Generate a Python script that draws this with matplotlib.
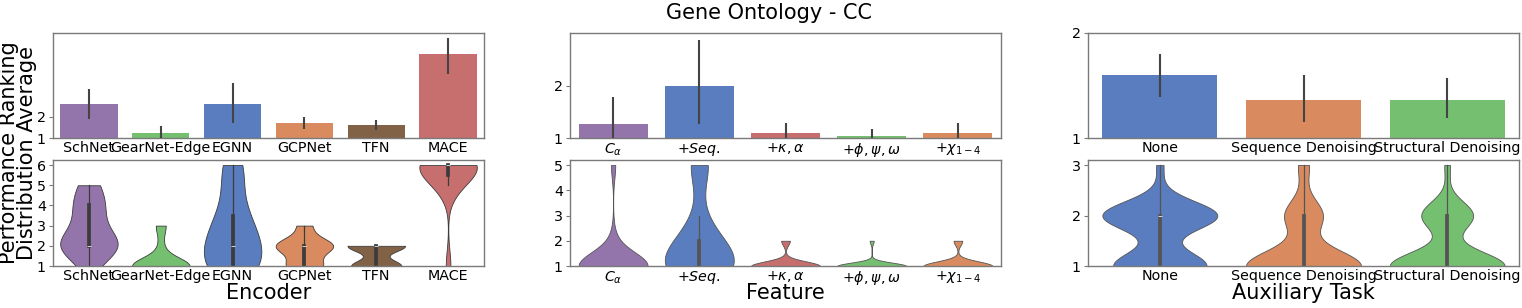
import numpy as np
import pandas as pd
import matplotlib
matplotlib.use("Agg")
import matplotlib.pyplot as plt
import seaborn as sns

# ── data ──────────────────────────────────────────────────────────────────────

ENCODERS = ["SchNet", "GearNet-Edge", "EGNN", "GCPNet", "TFN", "MACE"]
FEATURES = [r"$C_\alpha$", r"$+Seq.$", r"$+\kappa,\alpha$",
            r"$+\phi,\psi,\omega$", r"$+\chi_{1-4}$"]
AUX_TASKS = ["None", "Sequence Denoising", "Structural Denoising"]

# average ranking (bar height) and its interval
enc_mean = [2.62, 1.24, 2.62, 1.70, 1.63, 4.98]
enc_lo = [1.90, 1.00, 1.70, 1.43, 1.36, 4.03]
enc_hi = [3.35, 1.59, 3.63, 2.00, 1.86, 5.78]

feat_mean = [1.27, 2.00, 1.10, 1.04, 1.10]
feat_lo = [1.00, 1.27, 1.00, 1.00, 1.00]
feat_hi = [1.78, 2.86, 1.28, 1.17, 1.28]

aux_mean = [1.60, 1.365, 1.365]
aux_lo = [1.39, 1.15, 1.195]
aux_hi = [1.80, 1.60, 1.57]

# individual rankings behind the violins
enc_ranks = [
    [1, 2, 2, 2, 2, 2, 2, 2, 3, 3, 4, 4, 4, 5, 5],
    [1, 1, 1, 1, 1, 1, 1, 1, 1, 1, 1, 1, 2, 3, 3],
    [1, 1, 1, 1, 1, 2, 2, 2, 3, 3, 3, 4, 5, 6, 6],
    [1, 1, 1, 1, 1, 2, 2, 2, 2, 2, 2, 2, 2, 3, 3],
    [1, 1, 1, 1, 1, 1, 1, 2, 2, 2, 2, 2, 2, 2, 2],
    [1, 5, 5, 5, 6, 6, 6, 6, 6, 6, 6, 6, 6, 6, 6],
]
feat_ranks = [
    [1] * 16 + [2, 5],
    [1] * 10 + [2] * 4 + [3] + [5] * 3,
    [1] * 16 + [2] * 2,
    [1] * 17 + [2],
    [1] * 16 + [2] * 2,
]
aux_ranks = [
    [1] * 13 + [2] * 16 + [3],
    [1] * 21 + [2] * 7 + [3] * 2,
    [1] * 20 + [2] * 9 + [3],
]

muted = sns.color_palette("muted")
BLUE, ORANGE, GREEN, RED, PURPLE, BROWN = (muted[0], muted[1], muted[2],
                                           muted[3], muted[4], muted[5])
enc_colors = [PURPLE, GREEN, BLUE, ORANGE, BROWN, RED]
feat_colors = [PURPLE, BLUE, RED, GREEN, ORANGE]
aux_colors = [BLUE, ORANGE, GREEN]

# ── figure ────────────────────────────────────────────────────────────────────

fig = plt.figure(figsize=(15.22, 3.08), dpi=100)

W = 431 / 1522
lefts = [53 / 1522, 570 / 1522, 1088 / 1522]
top_box = (1 - 138 / 308, 105 / 308)
bot_box = (1 - 266 / 308, 106 / 308)

panels = [
    (ENCODERS, enc_mean, enc_lo, enc_hi, enc_ranks, enc_colors, "Encoder"),
    (FEATURES, feat_mean, feat_lo, feat_hi, feat_ranks, feat_colors, "Feature"),
    (AUX_TASKS, aux_mean, aux_lo, aux_hi, aux_ranks, aux_colors, "Auxiliary Task"),
]

SPINE = "#7a7a7a"
TICK_FS = 10.3


def style_axes(ax):
    for s in ax.spines.values():
        s.set_color(SPINE)
        s.set_linewidth(1.0)
    ax.tick_params(axis="y", labelsize=TICK_FS, length=3, width=0.8,
                   color=SPINE, pad=2)
    ax.tick_params(axis="x", labelsize=TICK_FS, length=0, pad=2.5)


for left, (cats, mean, lo, hi, ranks, colors, xlabel) in zip(lefts, panels):
    n = len(cats)
    pos = np.arange(n)
    bar_colors = [sns.desaturate(c, 0.75) for c in colors]

    # top: average ranking bars
    ax = fig.add_axes([left, top_box[0], W, top_box[1]])
    ax.bar(pos, mean, width=0.8, color=bar_colors, zorder=2)
    ax.vlines(pos, lo, hi, color="#444444", linewidth=1.5, zorder=3)
    ax.set_xlim(-0.5, n - 0.5)
    ax.set_ylim(1, np.ceil(max(hi)))
    ax.set_yticks([1, 2])
    ax.set_xticks(pos)
    ax.set_xticklabels(cats)
    style_axes(ax)

    # bottom: distribution violins
    ax2 = fig.add_axes([left, bot_box[0], W, bot_box[1]])
    df = pd.DataFrame({
        "cat": np.repeat(cats, [len(r) for r in ranks]),
        "rank": np.concatenate(ranks),
    })
    kw = dict(data=df, x="cat", y="rank", hue="cat", order=cats, hue_order=cats,
              palette=colors, cut=0, inner="box", linewidth=0.6, width=0.8,
              legend=False, ax=ax2)
    try:
        sns.violinplot(density_norm="width", **kw)
    except TypeError:
        kw.pop("legend")
        sns.violinplot(scale="width", **kw)
    top = max(max(r) for r in ranks)
    ax2.set_xlim(-0.5, n - 0.5)
    ax2.set_ylim(1, top + 0.05 * (top - 1))
    ax2.set_yticks(np.arange(1, top + 1))
    ax2.set_xlabel("")
    ax2.set_ylabel("")
    style_axes(ax2)

    # axis title under each column, all on one baseline
    fig.text(left + W / 2, 1 - 299 / 308, xlabel, ha="center", va="baseline",
             fontsize=15)

fig.text(18 / 1522, 1 - 153 / 308, "Performance Ranking\nDistribution Average",
         rotation=90, ha="center", va="center", fontsize=15, linespacing=0.88)
fig.text(769 / 1522, 1 - 13 / 308, "Gene Ontology - CC",
         ha="center", va="center", fontsize=15)

fig.savefig("out.png", dpi=100)
